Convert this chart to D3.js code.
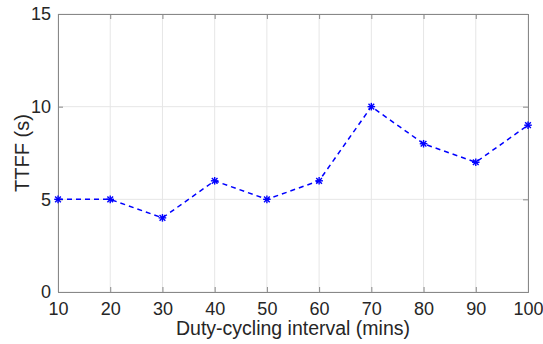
<!DOCTYPE html>
<html>
<head>
<meta charset="utf-8">
<script src="https://cdn.jsdelivr.net/npm/d3@7"></script>
<style>
  html, body { margin: 0; padding: 0; background: #fff; }
  svg { display: block; font-family: "Liberation Sans", Arial, sans-serif; }
</style>
</head>
<body>
<svg id="chart" width="543" height="344"></svg>
<script>
// Time to first fix for each duty-cycling interval
const intervals = [10, 20, 30, 40, 50, 60, 70, 80, 90, 100];
const ttff = [5, 5, 4, 6, 5, 6, 10, 8, 7, 9];
const xTicks = [10, 20, 30, 40, 50, 60, 70, 80, 90, 100];
const yTicks = [0, 5, 10, 15];

const svg = d3.select("#chart");
const margin = { left: 58, right: 15, top: 14, bottom: 52 };
const W = 543, H = 344;

const x = d3.scaleLinear().domain([10, 100]).range([margin.left, W - margin.right]);
const y = d3.scaleLinear().domain([0, 15]).range([H - margin.bottom, margin.top]);

const axisColor = "#888";
const gridColor = "#e6e6e6";
const textColor = "#262626";

// grid
svg.append("g").selectAll("line").data(xTicks).join("line")
  .attr("x1", d => x(d)).attr("x2", d => x(d))
  .attr("y1", y(0)).attr("y2", y(15))
  .attr("stroke", gridColor).attr("stroke-width", 1);
svg.append("g").selectAll("line").data(yTicks).join("line")
  .attr("x1", x(10)).attr("x2", x(100))
  .attr("y1", d => y(d)).attr("y2", d => y(d))
  .attr("stroke", gridColor).attr("stroke-width", 1);

// axes (ticks pointing inward)
const xAxis = svg.append("g").attr("transform", `translate(0,${y(0)})`)
  .call(d3.axisBottom(x).tickValues(xTicks).tickSize(-5).tickPadding(10).tickFormat(d3.format("d")));
const yAxis = svg.append("g").attr("transform", `translate(${x(10)},0)`)
  .call(d3.axisLeft(y).tickValues(yTicks).tickSize(-5).tickPadding(7).tickFormat(d3.format("d")));
const xAxisTop = svg.append("g").attr("transform", `translate(0,${y(15)})`)
  .call(d3.axisTop(x).tickValues(xTicks).tickSize(-5).tickFormat(""));
const yAxisRight = svg.append("g").attr("transform", `translate(${x(100)},0)`)
  .call(d3.axisRight(y).tickValues(yTicks).tickSize(-5).tickFormat(""));

[xAxis, yAxis, xAxisTop, yAxisRight].forEach(g => {
  g.selectAll("path, line").attr("stroke", axisColor);
  g.selectAll("text").attr("fill", textColor).style("font-size", "18px")
    .style("font-family", "'Liberation Sans', Arial, sans-serif");
});

// axis titles
svg.append("text")
  .attr("x", (x(10) + x(100)) / 2).attr("y", 335)
  .attr("text-anchor", "middle").attr("fill", textColor)
  .style("font-size", "19.5px")
  .text("Duty-cycling interval (mins)");
svg.append("text")
  .attr("transform", `translate(29,${(y(0) + y(15)) / 2}) rotate(-90)`)
  .attr("text-anchor", "middle").attr("fill", textColor)
  .style("font-size", "20px")
  .text("TTFF (s)");

// dashed series line
const pts = intervals.map((d, i) => [d, ttff[i]]);
svg.append("path")
  .datum(pts)
  .attr("fill", "none")
  .attr("stroke", "#0000ff")
  .attr("stroke-width", 1.5)
  .attr("stroke-dasharray", "5,4")
  .attr("d", d3.line().x(d => x(d[0])).y(d => y(d[1])));

// asterisk markers
const r = 3.8;
const mk = svg.append("g").selectAll("g").data(pts).join("g")
  .attr("transform", d => `translate(${x(d[0])},${y(d[1])})`)
  .attr("stroke", "#0000ff").attr("stroke-width", 1.4);
mk.append("line").attr("x1", -r).attr("x2", r).attr("y1", 0).attr("y2", 0);
mk.append("line").attr("x1", 0).attr("x2", 0).attr("y1", -r).attr("y2", r);
mk.append("line").attr("x1", -r * 0.75).attr("x2", r * 0.75).attr("y1", -r * 0.75).attr("y2", r * 0.75);
mk.append("line").attr("x1", -r * 0.75).attr("x2", r * 0.75).attr("y1", r * 0.75).attr("y2", -r * 0.75);
</script>
</body>
</html>
